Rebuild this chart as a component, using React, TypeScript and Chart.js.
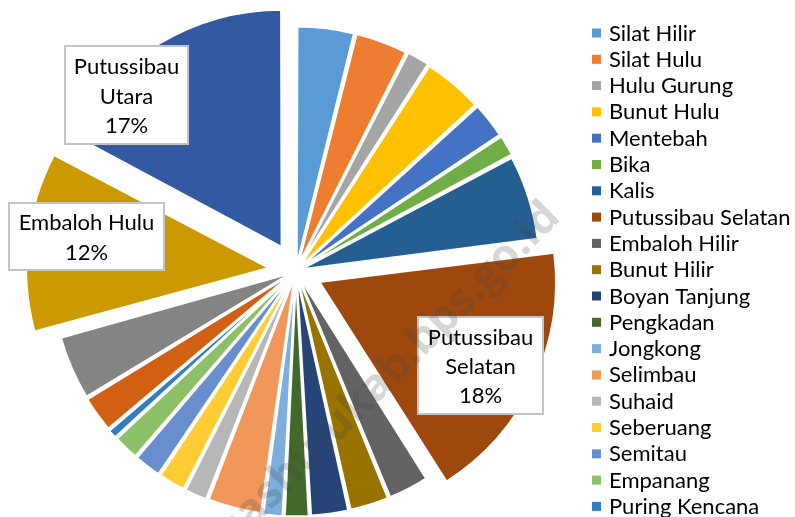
import React, { useEffect, useRef } from "react";
import { Chart, registerables } from "chart.js";

Chart.register(...registerables);

// ---- Data ----
const categories: string[] = [
  "Silat Hilir",
  "Silat Hulu",
  "Hulu Gurung",
  "Bunut Hulu",
  "Mentebah",
  "Bika",
  "Kalis",
  "Putussibau Selatan",
  "Embaloh Hilir",
  "Bunut Hilir",
  "Boyan Tanjung",
  "Pengkadan",
  "Jongkong",
  "Selimbau",
  "Suhaid",
  "Seberuang",
  "Semitau",
  "Empanang",
  "Puring Kencana",
  "Badau",
  "Batang Lupar",
  "Embaloh Hulu",
  "Putussibau Utara",
];

const shares: number[] = [
  3.9, 3.6, 1.6, 4.1, 2.5, 1.5, 5.8, 18.0, 2.8, 2.7, 2.6, 1.7, 1.4, 3.7, 1.6,
  1.9, 1.9, 1.8, 0.7, 2.5, 4.4, 12.1, 17.2,
];

const sliceColors: string[] = [
  "#5B9BD5",
  "#ED7D31",
  "#A5A5A5",
  "#FFC000",
  "#4472C4",
  "#70AD47",
  "#255E91",
  "#9E480E",
  "#636363",
  "#997300",
  "#264478",
  "#43682B",
  "#7CAFDD",
  "#F1975A",
  "#B7B7B7",
  "#FFCD33",
  "#698ED0",
  "#8CC168",
  "#327DC2",
  "#D26012",
  "#848484",
  "#CC9A00",
  "#335AA1",
];

// slices that carry a data label (exploded)
const labelledSlices: string[] = ["Putussibau Selatan", "Embaloh Hulu", "Putussibau Utara"];

const FONT = "Lato, 'Open Sans', sans-serif";
const FONT_SIZE = 22;

const labelBoxes: Record<string, { x: number; y: number; w: number; h: number }> = {
  "Putussibau Utara": { x: 65, y: 46, w: 123, h: 98 },
  "Embaloh Hulu": { x: 9, y: 203, w: 155, h: 67 },
  "Putussibau Selatan": { x: 418, y: 317, w: 125, h: 97 },
};

const explodeOffset: Record<string, number> = {
  "Putussibau Selatan": 104,
  "Embaloh Hulu": 110,
  "Putussibau Utara": 112,
};

function wrapText(ctx: CanvasRenderingContext2D, text: string, maxW: number): string[] {
  const words = text.split(" ");
  const lines: string[] = [];
  let cur = "";
  for (const w of words) {
    const t = cur ? cur + " " + w : w;
    if (cur && ctx.measureText(t).width > maxW) {
      lines.push(cur);
      cur = w;
    } else cur = t;
  }
  if (cur) lines.push(cur);
  return lines;
}

const dataLabelPlugin = {
  id: "dataLabelBoxes",
  afterDatasetsDraw(chart: any) {
    const ctx: CanvasRenderingContext2D = chart.ctx;
    const data: number[] = chart.data.datasets[0].data;
    const total = data.reduce((a, b) => a + b, 0);
    ctx.save();
    ctx.font = `${FONT_SIZE}px ${FONT}`;
    ctx.textAlign = "center";
    ctx.textBaseline = "middle";
    chart.data.labels.forEach((name: string, i: number) => {
      if (!labelledSlices.includes(name)) return;
      const box = labelBoxes[name];
      const pct = Math.round((data[i] / total) * 100) + "%";
      const lines = [...wrapText(ctx, name, box.w - 12), pct];
      ctx.fillStyle = "#FFFFFF";
      ctx.fillRect(box.x, box.y, box.w, box.h);
      ctx.strokeStyle = "#C4C4C4";
      ctx.lineWidth = 2;
      ctx.strokeRect(box.x, box.y, box.w, box.h);
      ctx.fillStyle = "#000000";
      const lh = 29.4;
      const cy = box.y + box.h / 2 + 1.5;
      const startY = cy - ((lines.length - 1) * lh) / 2;
      lines.forEach((ln, k) => {
        ctx.fillText(ln, box.x + box.w / 2, startY + k * lh);
      });
    });
    ctx.restore();
  },
};

const legendPlugin = {
  id: "sideLegend",
  afterDraw(chart: any) {
    const ctx: CanvasRenderingContext2D = chart.ctx;
    const bg: string[] = chart.data.datasets[0].backgroundColor;
    ctx.save();
    ctx.font = `${FONT_SIZE}px ${FONT}`;
    ctx.textAlign = "left";
    ctx.textBaseline = "middle";
    chart.data.labels.forEach((name: string, i: number) => {
      const y = 33 + i * 26.3;
      ctx.fillStyle = bg[i];
      ctx.fillRect(592, y - 4.5, 9, 9);
      ctx.fillStyle = "#000000";
      ctx.fillText(name, 609, y + 0.5);
    });
    ctx.restore();
  },
};

const watermarkPlugin = {
  id: "watermark",
  afterDraw(chart: any) {
    const ctx: CanvasRenderingContext2D = chart.ctx;
    ctx.save();
    ctx.translate(553, 210);
    ctx.rotate((-45 * Math.PI) / 180);
    ctx.font = `bold 44px 'Open Sans', sans-serif`;
    ctx.textAlign = "right";
    ctx.textBaseline = "middle";
    ctx.fillStyle = "rgba(70,70,70,0.22)";
    ctx.fillText("kapuashulukab.bps.go.id", 0, 0);
    ctx.restore();
  },
};

export default function App() {
  const canvasRef = useRef<HTMLCanvasElement | null>(null);

  useEffect(() => {
    let chart: Chart | null = null;
    let cancelled = false;
    const build = () => {
      if (cancelled || !canvasRef.current) return;
      chart = new Chart(canvasRef.current, {
        type: "pie",
        data: {
          labels: categories,
          datasets: [
            {
              data: shares,
              backgroundColor: sliceColors,
              borderColor: "#FFFFFF",
              borderWidth: 2,
              offset: categories.map((c) => explodeOffset[c] ?? 24),
              radius: 234,
            } as any,
          ],
        },
        options: {
          animation: false,
          responsive: false,
          radius: 234,
          layout: { padding: { left: 0, right: 203, top: 25, bottom: 0 } },
          plugins: {
            legend: { display: false },
            tooltip: { enabled: false },
          },
        } as any,
        plugins: [dataLabelPlugin, legendPlugin, watermarkPlugin],
      });
    };
    const fonts: any = (document as any).fonts;
    if (fonts && fonts.load) {
      Promise.all([
        fonts.load(`${FONT_SIZE}px Lato`),
        fonts.load(`bold 44px 'Open Sans'`),
      ])
        .catch(() => {})
        .then(build);
    } else build();
    return () => {
      cancelled = true;
      if (chart) chart.destroy();
    };
  }, []);

  return (
    <div
      style={{
        position: "fixed",
        left: 0,
        top: 0,
        width: 795,
        height: 517,
        overflow: "hidden",
        background: "#FFFFFF",
      }}
    >
      <canvas ref={canvasRef} width={795} height={517} style={{ display: "block" }} />
    </div>
  );
}
